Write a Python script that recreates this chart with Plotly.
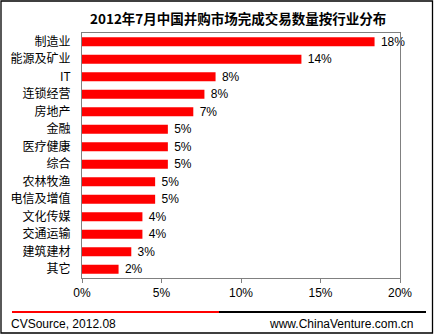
import plotly.graph_objects as go

# Industry shares of completed M&A deals, July 2012 (top to bottom)
industries = ["制造业", "能源及矿业", "IT", "连锁经营", "房地产", "金融", "医疗健康",
              "综合", "农林牧渔", "电信及增值", "文化传媒", "交通运输", "建筑建材", "其它"]
shares = [0.184, 0.138, 0.084, 0.077, 0.070, 0.054, 0.054,
          0.054, 0.046, 0.046, 0.038, 0.038, 0.031, 0.023]
x_ticks = [0.0, 0.05, 0.10, 0.15, 0.20]

title_text = "2012年7月中国并购市场完成交易数量按行业分布"
source_text = "CVSource, 2012.08"
site_text = "www.ChinaVenture.com.cn"

W, H = 435, 335
L, R, T, B = 82, 35, 33, 57
PW, PH = W - L - R, H - T - B


def px(x):
    return (x - L) / PW


def py(y):
    return (H - B - y) / PH


FONT = "Liberation Sans, Arial, Noto Sans CJK SC, sans-serif"
CJK = "Noto Sans CJK SC, Liberation Sans, sans-serif"

fig = go.Figure(go.Bar(
    x=shares,
    y=industries,
    orientation="h",
    marker=dict(color="#FF0000", line=dict(width=0)),
    texttemplate=" %{x:.0%}",
    textposition="outside",
    constraintext="none",
    textfont=dict(family=FONT, size=12, color="#000000"),
    cliponaxis=False,
    hoverinfo="skip",
))

shapes = [
    # outer frame
    dict(type="rect", xref="paper", yref="paper",
         x0=px(1), x1=px(432.5), y0=py(333), y1=py(1),
         line=dict(color="#000000", width=1.3), layer="above"),
    # footer rule: red then black
    dict(type="line", xref="paper", yref="paper",
         x0=px(12), x1=px(219), y0=py(312), y1=py(312),
         line=dict(color="#FF0000", width=2.2)),
    dict(type="line", xref="paper", yref="paper",
         x0=px(219), x1=px(426), y0=py(312), y1=py(312),
         line=dict(color="#000000", width=2.2)),
]

annotations = [
    dict(text=f"<b>{title_text}</b>", xref="paper", yref="paper",
         x=px(238), y=py(18), xanchor="center", yanchor="middle",
         showarrow=False, font=dict(family=CJK, size=13.5, color="#000000")),
    dict(text=source_text, xref="paper", yref="paper",
         x=px(9), y=py(323.5), xanchor="left", yanchor="middle",
         showarrow=False, font=dict(family=FONT, size=12, color="#000000")),
    dict(text=site_text, xref="paper", yref="paper",
         x=px(415), y=py(323.5), xanchor="right", yanchor="middle",
         showarrow=False, font=dict(family=FONT, size=12, color="#000000")),
]

fig.update_layout(
    width=W, height=H,
    margin=dict(l=L, r=R, t=T, b=B, pad=0),
    paper_bgcolor="#FFFFFF",
    plot_bgcolor="#FFFFFF",
    showlegend=False,
    bargap=0.48,
    uniformtext=dict(mode=False),
    shapes=shapes,
    annotations=annotations,
    xaxis=dict(
        range=[0, 0.20], tickvals=x_ticks, tickformat=".0%",
        showgrid=False, zeroline=False,
        showline=True, linecolor="#808080", linewidth=1, mirror=True,
        ticks="outside", ticklen=4, tickcolor="#808080",
        tickfont=dict(family=FONT, size=12, color="#000000"),
        fixedrange=True,
    ),
    yaxis=dict(
        categoryorder="array", categoryarray=industries[::-1],
        showgrid=False, zeroline=False,
        showline=True, linecolor="#808080", linewidth=1, mirror=True,
        ticks="", ticklabelstandoff=8,
        tickfont=dict(family=CJK, size=12, color="#000000"),
        fixedrange=True,
    ),
)

fig.write_html("out.html", config={"displayModeBar": False})
